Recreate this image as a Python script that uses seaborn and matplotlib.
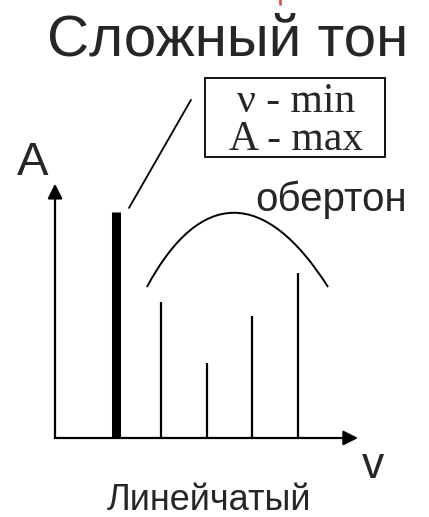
import matplotlib
matplotlib.use("Agg")
import matplotlib.pyplot as plt
import seaborn as sns
from matplotlib.path import Path
from matplotlib.patches import PathPatch, Rectangle
from matplotlib.lines import Line2D

# harmonics: fundamental + overtones (relative amplitude)
harmonic = [1, 2, 3, 4, 5]
amplitude = [1.0, 0.60, 0.33, 0.54, 0.73]
line_width = [6.5, 1.6, 1.6, 1.6, 1.6]

# envelope of overtones (bezier control points, data units)
env_x = [1.68, 2.85, 4.28, 5.66]
env_y = [0.668, 1.106, 1.106, 0.668]

title = "Сложный тон"
box_lines = ["ν - min", "A - max"]

sns.set_style("white")
plt.rcParams['font.family'] = ['Liberation Sans', 'DejaVu Sans']

fig = plt.figure(figsize=(4.29, 5.17), dpi=100)
ax = fig.add_axes([0, 0, 1, 1])
ax.set_xlim(-1.549, 7.879)
ax.set_ylim(-0.3496, 1.938)
ax.axis("off")

# axes with arrows
ax.annotate("", xy=(6.32, 0), xytext=(-0.34, 0),
            arrowprops=dict(arrowstyle="-|>", color="black", lw=1.6,
                            mutation_scale=22, shrinkA=0, shrinkB=0))
ax.annotate("", xy=(-0.34, 1.125), xytext=(-0.34, 0),
            arrowprops=dict(arrowstyle="-|>", color="black", lw=1.6,
                            mutation_scale=22, shrinkA=0, shrinkB=0))

# spectral lines
for h, a, w in zip(harmonic, amplitude, line_width):
    ax.vlines(h, 0, a, color="black", lw=w, capstyle="butt")

# envelope
verts = list(zip(env_x, env_y))
path = Path(verts, [Path.MOVETO, Path.CURVE4, Path.CURVE4, Path.CURVE4])
ax.add_patch(PathPatch(path, fill=False, lw=1.4, edgecolor="black"))

# pointer to the fundamental
ax.plot([1.286, 2.648], [1.018, 1.496], color="black", lw=1.3)

# boxed note
ax.add_patch(Rectangle((2.956, 1.243), 3.956, 0.350, fill=False,
                       edgecolor="black", lw=1.3))
ax.text(4.956, 1.442, box_lines[0], family="Liberation Serif", fontsize=30,
        ha="center", va="baseline")
ax.text(4.956, 1.274, box_lines[1], family="Liberation Serif", fontsize=30,
        ha="center", va="baseline")

# labels
fig.text(0.531, 0.8936, title, fontsize=42, ha="center", va="baseline")
fig.text(0.040, 0.6615, "A", fontsize=34, ha="left", va="baseline")
fig.text(0.594, 0.592, "обертон", fontsize=29, ha="left", va="baseline")
fig.text(0.844, 0.0754, "v", fontsize=32, ha="left", va="baseline")
fig.text(0.487, 0.013, "Линейчатый", fontsize=26, ha="center", va="baseline")

# small red mark at the top edge
fig.add_artist(Line2D([0.652, 0.652], [1.0, 0.992], color="#e05050", lw=2))

fig.savefig("out.png", dpi=100)
